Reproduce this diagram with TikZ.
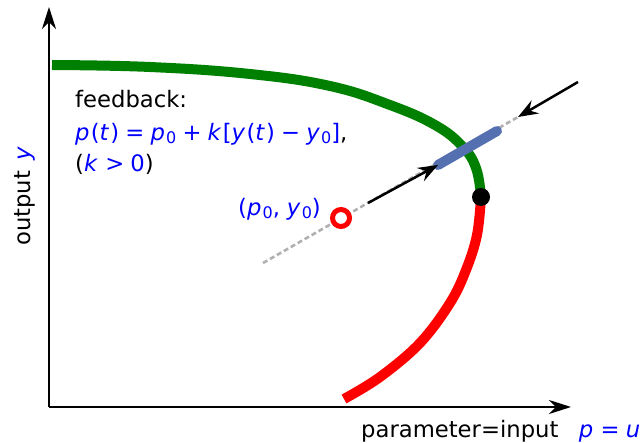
\documentclass[tikz,border=0pt]{standalone}
\usepackage{fontspec}
\setmainfont{DejaVu Sans}
\usepackage{tikz}
\usetikzlibrary{arrows.meta,positioning,calc}
\definecolor{curvegreen}{RGB}{0,128,0}
\definecolor{stepblue}{RGB}{85,112,176}
\definecolor{dashgray}{RGB}{176,176,176}
\newcommand{\iv}[1]{\textit{#1}\hspace{1.2pt}}
\newcommand{\zsub}{\raisebox{-0.22ex}{\fontsize{16}{16}\selectfont 0}}
\newcommand{\opsp}{\hspace{0.27em}}

\begin{document}
\begin{tikzpicture}[
  x=1pt, y=-1pt,
  font=\fontsize{22.7}{30}\selectfont,
  axis/.style={line width=2.5pt, -{Stealth[length=22pt,width=14pt,inset=7pt]}},
  arr/.style={line width=2.5pt, -{Stealth[length=20pt,width=15pt,inset=7pt]}},
  branch/.style={line width=10pt, line cap=butt},
  guide/.style={draw=dashgray, line width=2.6pt, dash pattern=on 5pt off 3pt},
  lbl/.style={inner sep=0pt, anchor=base west},
  mathlbl/.style={lbl, text=blue}
]
\useasboundingbox (0,0) rectangle (642,443);

% axes
\coordinate (O) at (49,407);
\coordinate (ytip) at (49,7);
\coordinate (xtip) at (571,407);
\draw[axis] (O) -- (ytip);
\draw[axis] (O) -- (xtip);
\node[lbl] (xlab) at (361,437) {parameter=input\hspace{0.9em}\textcolor{blue}{\iv{p}\opsp=\opsp\iv{u}}};
\node[lbl, rotate=90] (ylab) at (30,246) {output\hspace{0.45em}\textcolor{blue}{\iv{y}}};

% branches of the equilibrium curve
\draw[branch, curvegreen] plot[smooth, tension=0.7] coordinates {(52,65) (150,67) (250,74) (330,86) (390,105) (435,125) (462,146) (476,168) (481,197)};
\draw[branch, red] plot[smooth, tension=0.6] coordinates {(481,197) (477,235) (466,270) (450,303) (420,343) (380,377) (344,399)};
\node[circle, fill=black, inner sep=0pt, minimum size=18pt] (fold) at (481,197) {};

% feedback line through the set point
\coordinate (gstart) at (263,263);
\coordinate (gend) at (518,117);
\draw[guide] (gstart) -- (gend);
\coordinate (a1) at (368,203);
\coordinate (s1) at (438,165);
\coordinate (s2) at (497,131);
\coordinate (a2) at (578,82);
\draw[stepblue, line width=10pt, line cap=round] (s1) -- (s2);
\draw[arr] (a1) -- (s1);
\draw[arr] (a2) -- (gend);
\node[circle, draw=red, line width=5pt, fill=white, inner sep=0pt, minimum size=17pt] (p0) at (341,218) {};
\node[mathlbl, anchor=base east] (p0lab) at (321,216) {(\iv{p}\zsub,\hspace{0.3em}\iv{y}\zsub)};

% feedback law
\node[lbl] (fb) at (75,108) {feedback:};
\node[mathlbl] (law) at (75,141) {\iv{p}(\iv{t})\opsp=\opsp\iv{p}\zsub\opsp+\opsp\iv{k}[\iv{y}(\iv{t})\opsp−\opsp\iv{y}\zsub]\textcolor{black}{,}};
\node[lbl] (kpos) at (75,172) {(\textcolor{blue}{\iv{k}\opsp>\opsp0})};
\end{tikzpicture}
\end{document}
